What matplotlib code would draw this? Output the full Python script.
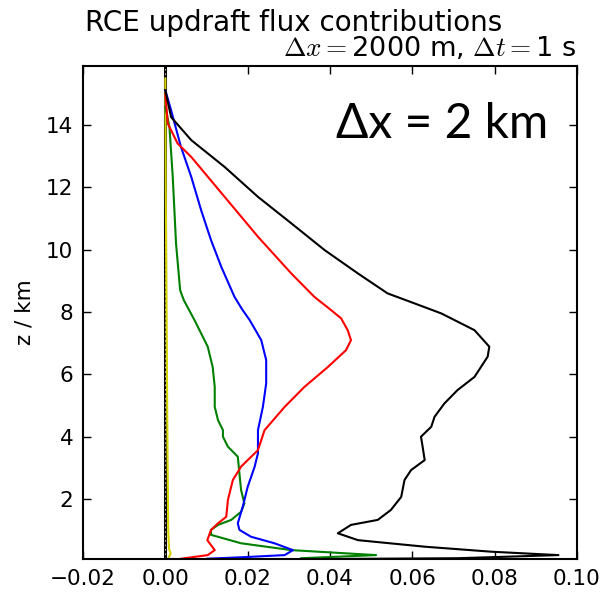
import numpy as np
import matplotlib
matplotlib.use("Agg")
import matplotlib.pyplot as plt

plt.rcParams["mathtext.fontset"] = "cm"

# profiles: height (km) and flux contribution
z_black = [15.12, 14.26, 13.52, 12.66, 11.70, 10.85, 9.99, 9.24, 8.60, 8.38, 7.96, 7.42, 6.89, 6.57,
           5.92, 5.50, 5.07, 4.64, 4.32, 4.00, 3.68, 3.25, 2.93, 2.61, 2.07, 1.65, 1.33, 1.17, 0.90,
           0.68, 0.47, 0.31, 0.20, 0.10, 0.075]
f_black = [0.0, 0.0014, 0.0063, 0.0144, 0.0225, 0.0306, 0.0387, 0.0468, 0.0540, 0.0585, 0.0670, 0.0751,
           0.0787, 0.0783, 0.0751, 0.0710, 0.0678, 0.0654, 0.0646, 0.0621, 0.0625, 0.0630, 0.0597,
           0.0581, 0.0573, 0.0548, 0.0516, 0.0451, 0.0419, 0.0468, 0.0630, 0.0791, 0.0955, 0.0710, 0.040]

z_red = [15.01, 14.05, 13.41, 12.98, 11.70, 10.42, 9.24, 8.49, 8.06, 7.80, 7.42, 7.10, 6.78, 6.24, 5.60,
         4.96, 4.21, 3.57, 3.04, 2.61, 1.97, 1.43, 1.22, 1.01, 0.68, 0.36, 0.20, 0.10, 0.075]
f_red = [0.0, 0.0006, 0.0030, 0.0063, 0.0144, 0.0225, 0.0306, 0.0362, 0.0403, 0.0427, 0.0443, 0.0451,
         0.0439, 0.0395, 0.0338, 0.0290, 0.0241, 0.0225, 0.0184, 0.0164, 0.0152, 0.0148, 0.0128, 0.0111,
         0.0102, 0.0120, 0.0103, 0.0047, 0.0035]

z_blue = [15.12, 14.48, 13.30, 12.34, 11.27, 10.31, 9.45, 8.49, 8.10, 7.74, 7.10, 6.46, 5.71, 4.96, 4.21,
          3.47, 3.04, 2.39, 1.75, 1.22, 1.01, 0.79, 0.58, 0.36, 0.20, 0.13, 0.085]
f_blue = [0.0, 0.0014, 0.0038, 0.0063, 0.0087, 0.0111, 0.0136, 0.0168, 0.0186, 0.0205, 0.0233, 0.0245,
          0.0245, 0.0237, 0.0225, 0.0225, 0.0217, 0.0200, 0.0188, 0.0176, 0.0180, 0.0208, 0.0265, 0.0310,
          0.0290, 0.0184, 0.0103]

z_green = [14.59, 13.94, 12.34, 10.20, 8.70, 8.38, 7.74, 6.89, 6.24, 5.60, 4.96, 4.53, 4.21, 4.00, 3.68,
           3.36, 2.82, 2.29, 1.86, 1.59, 1.33, 1.17, 1.01, 0.85, 0.58, 0.36, 0.20, 0.10]
f_green = [0.0, 0.0010, 0.0018, 0.0026, 0.0036, 0.0045, 0.0071, 0.0103, 0.0115, 0.0120, 0.0120, 0.0128,
           0.0140, 0.0140, 0.0152, 0.0176, 0.0180, 0.0184, 0.0192, 0.0184, 0.0160, 0.0128, 0.0111, 0.0111,
           0.0184, 0.0306, 0.0512, 0.0330]

z_yellow = [15.5, 12.0, 8.0, 4.0, 1.0, 0.4, 0.25, 0.12, 0.075]
f_yellow = [0.0, 0.0001, 0.0003, 0.0005, 0.0007, 0.0009, 0.0013, 0.0008, 0.0006]

z_zero = [0.075, 15.9]
f_zero = [0.0, 0.0]

xticks = [-0.02, 0.00, 0.02, 0.04, 0.06, 0.08, 0.10]
yticks = [2, 4, 6, 8, 10, 12, 14]

fig = plt.figure(figsize=(6.04, 5.93), dpi=100)
ax = fig.add_axes([83 / 604, 1 - 559 / 593, (577 - 83) / 604, (559 - 66) / 593])

ax.plot(f_zero, z_zero, color="black", lw=2.2)
ax.plot(f_zero, z_zero, color="#c8b48a", lw=0.8, ls=(0, (1.5, 2.5)))
ax.plot(f_yellow, z_yellow, color="#d4d400", lw=1.5)
ax.plot(f_green, z_green, color="green", lw=1.5)
ax.plot(f_blue, z_blue, color="blue", lw=1.5)
ax.plot(f_red, z_red, color="red", lw=1.5)
ax.plot(f_black, z_black, color="black", lw=1.5)

ax.set_xlim(-0.02, 0.10)
ax.set_ylim(0.075, 15.9)
ax.set_xticks(xticks)
ax.set_xticklabels(["\u22120.02", "0.00", "0.02", "0.04", "0.06", "0.08", "0.10"])
ax.set_yticks(yticks)
ax.tick_params(direction="in", top=True, right=True, length=6, width=1, labelsize=15.5, pad=7)
for s in ax.spines.values():
    s.set_linewidth(1.5)
ax.set_ylabel("z / km", fontsize=15.5, labelpad=8)

fig.text(85 / 604, 1 - 31 / 593, "RCE updraft flux contributions", fontsize=20, ha="left", va="baseline")
fig.text(577 / 604, 1 - 56 / 593, r"$\Delta x=$2000 m, $\Delta t=$1 s", fontsize=19.5,
         ha="right", va="baseline")

ax.text((548 - 83) / 494, (559 - 138) / 493, "\u0394x = 2 km", transform=ax.transAxes, fontsize=34.5,
        family="Lato", ha="right", va="baseline")

fig.savefig("out.png", dpi=100, facecolor="white")
